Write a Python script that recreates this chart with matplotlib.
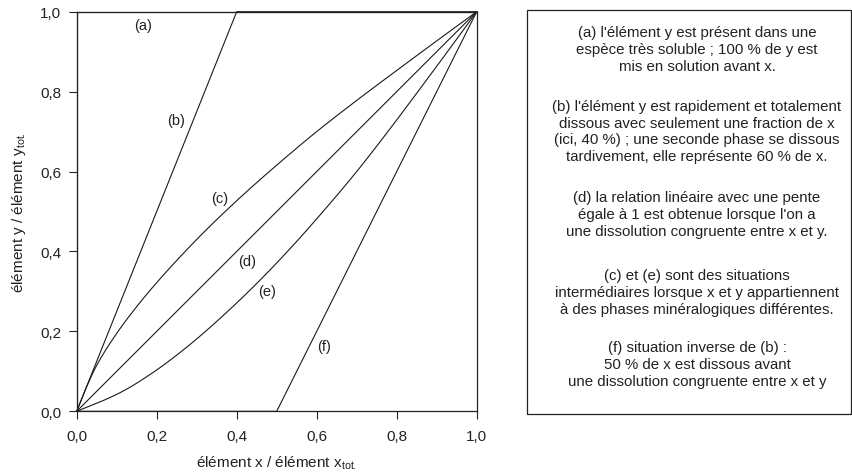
import matplotlib
matplotlib.use("Agg")
import numpy as np
import matplotlib.pyplot as plt
from matplotlib.ticker import FuncFormatter
from matplotlib.patches import Rectangle

plt.rcParams['font.family'] = ['Liberation Sans', 'DejaVu Sans']

# ---- data ----
a_x = [0.0, 0.0, 1.0]
a_y = [0.0, 1.0, 1.0]
b_x = [0.0, 0.4, 1.0]
b_y = [0.0, 1.0, 1.0]
d_x = [0.0, 1.0]
d_y = [0.0, 1.0]
f_x = [0.0, 0.5, 1.0]
f_y = [0.0, 0.0, 1.0]
c_x = [0.0, 0.025, 0.05, 0.1, 0.15, 0.2, 0.3, 0.4, 0.5, 0.6, 0.7, 0.8, 0.9, 1.0]
c_y = [0.0, 0.062, 0.115, 0.195, 0.262, 0.322, 0.43, 0.527, 0.616, 0.70, 0.778, 0.853, 0.927, 1.0]
e_x = [0.0, 0.062, 0.115, 0.195, 0.262, 0.322, 0.43, 0.527, 0.616, 0.70, 0.778, 0.853, 0.927, 1.0]
e_y = [0.0, 0.025, 0.05, 0.1, 0.15, 0.2, 0.3, 0.4, 0.5, 0.6, 0.7, 0.8, 0.9, 1.0]

curve_labels = ['(a)', '(b)', '(c)', '(d)', '(e)', '(f)']
label_x = [0.165, 0.248, 0.358, 0.425, 0.475, 0.618]
label_y = [0.966, 0.729, 0.533, 0.376, 0.300, 0.1625]

ticks = [0.0, 0.2, 0.4, 0.6, 0.8, 1.0]

paragraphs = [
    ["(a) l'élément y est présent dans une",
     "espèce très soluble ; 100 % de y est",
     "mis en solution avant x."],
    ["(b) l'élément y est rapidement et totalement",
     "dissous avec seulement une fraction de x",
     "(ici, 40 %) ; une seconde phase se dissous",
     "tardivement, elle représente 60 % de x."],
    ["(d) la relation linéaire avec une pente",
     "égale à 1 est obtenue lorsque l'on a",
     "une dissolution congruente entre x et y."],
    ["(c) et (e) sont des situations",
     "intermédiaires lorsque x et y appartiennent",
     "à des phases minéralogiques différentes."],
    ["(f) situation inverse de (b) :",
     "50 % de x est dissous avant",
     "une dissolution congruente entre x et y"],
]
para_first_y_px = [33.3, 106.7, 198.3, 276.0, 348.3]


def smooth(xs, ys, n=400):
    """Monotone cubic (Fritsch-Carlson) rendering through the read points."""
    x = np.asarray(xs, float)
    y = np.asarray(ys, float)
    h = np.diff(x)
    dlt = np.diff(y) / h
    m = np.empty_like(x)
    m[0], m[-1] = dlt[0], dlt[-1]
    for k in range(1, len(x) - 1):
        if dlt[k - 1] * dlt[k] <= 0:
            m[k] = 0
        else:
            w1 = 2 * h[k] + h[k - 1]
            w2 = h[k] + 2 * h[k - 1]
            m[k] = (w1 + w2) / (w1 / dlt[k - 1] + w2 / dlt[k])
    xx = np.linspace(x[0], x[-1], n)
    idx = np.clip(np.searchsorted(x, xx) - 1, 0, len(x) - 2)
    t = (xx - x[idx]) / h[idx]
    h00 = 2 * t**3 - 3 * t**2 + 1
    h10 = t**3 - 2 * t**2 + t
    h01 = -2 * t**3 + 3 * t**2
    h11 = t**3 - t**2
    yy = h00 * y[idx] + h10 * h[idx] * m[idx] + h01 * y[idx + 1] + h11 * h[idx] * m[idx + 1]
    return xx, yy


# ---- figure ----
W, H = 853, 477
fig = plt.figure(figsize=(W / 100, H / 100), dpi=100)
ax = fig.add_axes([76.7 / W, (H - 412.3) / H, 400 / W, 399.6 / H])

lc = '#1a1a1a'
lw = 0.8
for xs, ys in [(a_x, a_y), (b_x, b_y), (d_x, d_y), (f_x, f_y)]:
    ax.plot(xs, ys, color=lc, lw=lw, clip_on=False)
for xs, ys in [(c_x, c_y), (e_x, e_y)]:
    sx, sy = smooth(xs, ys)
    ax.plot(sx, sy, color=lc, lw=lw, clip_on=False)

for t, x, y in zip(curve_labels, label_x, label_y):
    ax.text(x, y, t, ha='center', va='center', fontsize=10.5, color='#222222')

ax.set_xlim(0, 1)
ax.set_ylim(0, 1)
ax.set_xticks(ticks)
ax.set_yticks(ticks)
fmt = FuncFormatter(lambda v, p: f"{v:.1f}".replace('.', ','))
ax.xaxis.set_major_formatter(fmt)
ax.yaxis.set_major_formatter(fmt)
ax.tick_params(axis='both', direction='out', length=6, width=0.8, labelsize=11, colors='#222222')
ax.tick_params(axis='x', pad=7)
ax.tick_params(axis='y', pad=5)
for s in ax.spines.values():
    s.set_linewidth(0.9)
    s.set_color('#222222')

ax.set_xlabel(r'élément x / élément x$_{\mathregular{tot.}}$', fontsize=11, color='#222222', labelpad=7)
ax.set_ylabel(r'élément y / élément y$_{\mathregular{tot.}}$', fontsize=11, color='#222222', labelpad=9)

# ---- text box ----
bx0, bx1, by0, by1 = 527.3, 851.5, 10.7, 415.0
fig.patches.append(Rectangle((bx0 / W, 1 - by1 / H), (bx1 - bx0) / W, (by1 - by0) / H,
                             transform=fig.transFigure, fill=False, lw=0.9,
                             edgecolor='#222222'))
cx = 697.0
spacing = 16.8
for lines, y0 in zip(paragraphs, para_first_y_px):
    for i, line in enumerate(lines):
        y = y0 + i * spacing
        fig.text(cx / W, 1 - y / H, line, ha='center', va='center', fontsize=10.8, color='#222222')

fig.savefig('out.png', dpi=100)
